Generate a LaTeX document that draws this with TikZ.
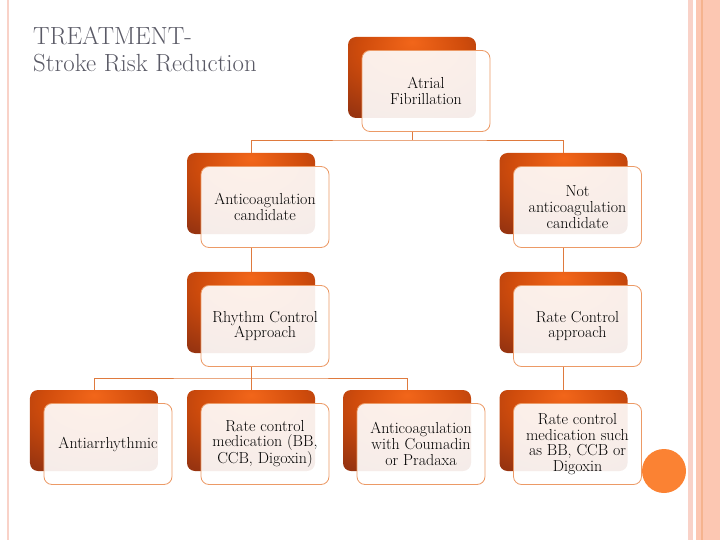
\documentclass[tikz,border=0pt]{standalone}
\usepackage{fontspec}
\usetikzlibrary{positioning}
\definecolor{dkA}{HTML}{F2661A}
\definecolor{dkB}{HTML}{D04C0C}
\definecolor{dkC}{HTML}{983410}
\definecolor{ltfill}{HTML}{FFFFFF}
\definecolor{ltborder}{HTML}{EC9A66}
\definecolor{connc}{HTML}{DF7A3E}
\definecolor{titlec}{HTML}{5A5A66}
\definecolor{bandpink}{HTML}{F9D2C8}
\definecolor{bandsalmon}{HTML}{FCC7B2}
\definecolor{bandstripe}{HTML}{F5B38E}
\definecolor{circc}{HTML}{FB8233}
\pgfdeclareradialshading{darkbox}{\pgfpoint{0bp}{22bp}}{color(0bp)=(dkA); color(20bp)=(dkB); color(42bp)=(dkC); color(100bp)=(dkC)}
\tikzset{
  x=1bp, y=-1bp,
  dk/.style={rectangle, rounded corners=8bp, minimum width=128bp, minimum height=81bp, inner sep=0pt, shading=darkbox},
  lt/.style={rectangle, rounded corners=8bp, minimum width=128bp, minimum height=81bp, inner sep=1pt,
     draw=ltborder, line width=0.8bp, fill=ltfill, fill opacity=0.91, text opacity=1, align=center,
     text=black, font=\fontsize{16}{15.8}\selectfont},
  conn/.style={draw=connc, line width=0.9bp},
  ttl/.style={anchor=base west, inner sep=0pt, text=titlec, font=\fontsize{24.9}{27}\selectfont}
}
\begin{document}
\begin{tikzpicture}
\useasboundingbox (0,0) rectangle (720,540);
% borders
\fill[bandpink] (6.5,0) rectangle (9,540);
\fill[bandpink] (688,0) rectangle (692.5,540);
\fill[bandsalmon] (696,0) rectangle (720,540);
\fill[bandstripe] (701,0) rectangle (703,540);
% title
\node[ttl] (t1) at (33,45) {TREATMENT-};
\node[ttl] (t2) at (33,72) {Stroke Risk Reduction};
% dark boxes
\node[dk] (A-d) at (412,77.5) {};
\node[dk] (B-d) at (251,193.5) {};
\node[dk] (C-d) at (563.5,193.5) {};
\node[dk] (D-d) at (251,312.5) {};
\node[dk] (F-d) at (563.5,312.5) {};
\node[dk] (E1-d) at (94,430.5) {};
\node[dk] (E2-d) at (251,430.5) {};
\node[dk] (E3-d) at (407,430.5) {};
\node[dk] (G-d) at (563.5,430.5) {};
% light boxes
\node[lt] (A) at (426,91) {Atrial\\Fibrillation};
\node[lt] (B) at (265,207) {Anticoagulation\\candidate};
\node[lt] (C) at (577.5,207) {Not\\anticoagulation\\candidate};
\node[lt] (D) at (265,326) {Rhythm Control\\Approach};
\node[lt] (F) at (577.5,326) {Rate Control\\approach};
\node[lt] (E1) at (108,444) {Antiarrhythmic};
\node[lt] (E2) at (265,444) {Rate control\\medication (BB,\\CCB, Digoxin)};
\node[lt] (E3) at (421,444) {Anticoagulation\\with Coumadin\\or Pradaxa};
\node[lt] (G) at (577.5,444) {Rate control\\medication such\\as BB, CCB or\\Digoxin};
% connectors
\coordinate (j1) at (412,140);
\coordinate (j2) at (251,378);
\draw[conn] (A-d |- A.south) -- (j1);
\draw[conn] (B-d.north) |- (j1) -| (C-d.north);
\draw[conn] (B-d |- B.south) -- (D-d.north);
\draw[conn] (C-d |- C.south) -- (F-d.north);
\draw[conn] (D-d |- D.south) -- (j2);
\draw[conn] (E1-d.north) |- (j2) -| (E3-d.north);
\draw[conn] (j2) -- (E2-d.north);
\draw[conn] (F-d |- F.south) -- (G-d.north);
% circle
\fill[circc] (664,471) circle (22);
\end{tikzpicture}
\end{document}
